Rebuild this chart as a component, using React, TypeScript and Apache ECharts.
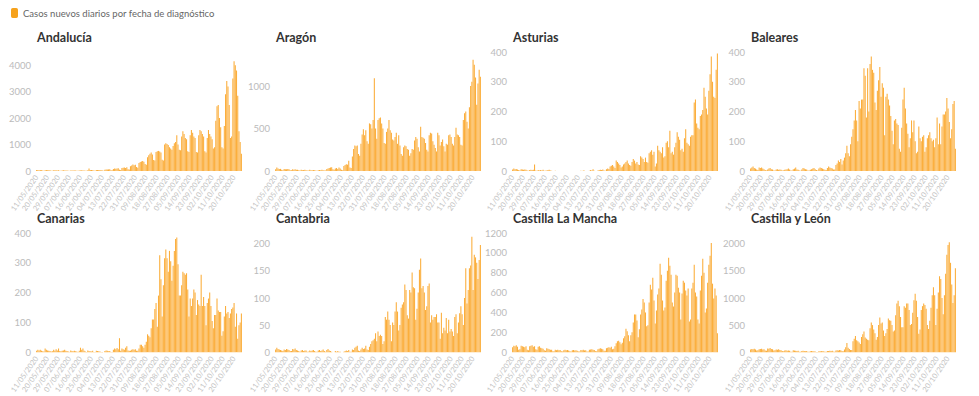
import React, { useEffect, useRef } from "react";
import * as echarts from "echarts";

const SERIES_NAME = "Casos nuevos diarios por fecha de diagnóstico";
const START_DATE = "2020-05-11";
const DAY_COUNT = 169;

// Daily values (Mon..Sun per row), 11/05/2020 -> 26/10/2020
const andalucia = [
  35, 40, 30, 35, 30, 15, 10,
  30, 35, 30, 25, 30, 10, 8,
  25, 30, 25, 20, 25, 8, 6,
  20, 25, 20, 20, 15, 8, 5,
  15, 20, 20, 15, 18, 6, 5,
  20, 20, 25, 20, 18, 10, 8,
  30, 95, 40, 35, 30, 15, 12,
  35, 40, 35, 40, 30, 15, 10,
  50, 60, 55, 60, 65, 30, 25,
  80, 90, 85, 95, 100, 50, 40,
  110, 120, 130, 115, 140, 70, 60,
  180, 210, 250, 220, 240, 150, 120,
  300, 340, 360, 380, 350, 260, 240,
  520, 600, 650, 700, 620, 420, 400,
  720, 750, 760, 740, 700, 430, 400,
  1000, 1050, 1020, 980, 900, 850, 800,
  950, 1050, 1100, 1350, 1000, 800, 780,
  1300, 1500, 1400, 1250, 1200, 750, 720,
  1350, 1550, 1450, 1300, 1250, 720, 700,
  1350, 1550, 1500, 1400, 1300, 750, 700,
  1250, 1550, 1400, 1300, 1200, 850, 900,
  1900, 2450, 2500, 2000, 1650, 900, 850,
  1700, 2900, 3400, 3200, 2500, 1250, 1300,
  3500, 4150, 4000, 3800, 2850, 1500, 1100,
  650,
];

const aragon = [
  20, 40, 30, 25, 25, 15, 10,
  25, 20, 20, 25, 20, 10, 8,
  20, 15, 20, 15, 15, 8, 5,
  15, 10, 12, 15, 10, 5, 5,
  15, 10, 10, 12, 8, 5, 3,
  10, 12, 10, 15, 10, 5, 5,
  25, 30, 35, 40, 45, 20, 15,
  30, 35, 25, 40, 30, 15, 10,
  60, 70, 80, 75, 120, 40, 35,
  170, 260, 300, 290, 300, 200, 180,
  320, 430, 490, 420, 480, 350, 320,
  560, 550, 500, 600, 1090, 500, 380,
  600, 620, 630, 560, 500, 330, 320,
  460, 500, 600, 480, 450, 370, 360,
  400, 450, 320, 420, 300, 200, 180,
  280, 300, 290, 260, 250, 180, 210,
  260, 250, 360, 400, 380, 280, 230,
  520, 400, 390, 380, 330, 250, 230,
  420, 450, 440, 350, 310, 270, 230,
  450, 420, 300, 340, 370, 290, 230,
  320, 310, 420, 430, 400, 320, 300,
  400, 510, 430, 420, 400, 310, 300,
  600, 680, 700, 580, 500, 750, 1000,
  1050, 1310, 1250, 1100, 780, 1030, 1190,
  1110,
];

const asturias = [
  5, 8, 6, 7, 5, 3, 2,
  6, 5, 4, 5, 4, 2, 1,
  3, 4, 3, 4, 22, 2, 1,
  3, 2, 3, 2, 4, 1, 1,
  2, 3, 4, 2, 1, 0, 0,
  1, 0, 0, 0, 0, 0, 0,
  0, 0, 0, 0, 0, 0, 0,
  0, 0, 0, 0, 0, 0, 0,
  1, 0, 2, 1, 0, 0, 0,
  1, 3, 2, 6, 1, 0, 0,
  2, 3, 4, 3, 5, 2, 1,
  6, 8, 7, 15, 18, 20, 15,
  10, 35, 30, 25, 20, 12, 15,
  22, 25, 30, 35, 25, 20, 18,
  30, 40, 35, 25, 30, 22, 20,
  50, 45, 40, 30, 45, 30, 28,
  60, 65, 70, 55, 65, 15, 25,
  85, 70, 65, 60, 80, 45, 50,
  95, 100, 80, 135, 60, 65, 55,
  80, 95, 130, 115, 105, 70, 75,
  65, 110, 140, 95, 90, 85, 115,
  120, 120, 230, 240, 160, 145, 140,
  185, 190, 205, 280, 250, 210, 190,
  270, 325, 385, 300, 250, 245, 340,
  395,
];

const baleares = [
  8, 12, 15, 10, 8, 5, 3,
  12, 10, 12, 8, 6, 3, 2,
  5, 8, 10, 6, 5, 2, 2,
  5, 6, 4, 5, 4, 2, 2,
  4, 5, 6, 8, 5, 2, 2,
  6, 8, 12, 5, 4, 2, 1,
  5, 10, 8, 6, 5, 2, 2,
  4, 6, 8, 10, 6, 3, 2,
  8, 12, 10, 8, 6, 4, 3,
  10, 15, 12, 10, 8, 5, 5,
  20, 25, 35, 30, 40, 22, 35,
  45, 60, 85, 60, 50, 90, 115,
  140, 170, 205, 170, 100, 235, 210,
  240, 240, 345, 320, 180, 345, 200,
  360, 385, 340, 330, 230, 205, 270,
  305, 350, 250, 295, 280, 120, 250,
  260, 240, 220, 185, 135, 90, 170,
  175, 160, 155, 75, 65, 145, 240,
  280, 210, 160, 125, 80, 110, 170,
  130, 170, 100, 60, 65, 150, 110,
  100, 115, 120, 65, 80, 110, 120,
  130, 110, 100, 105, 80, 110, 180,
  90, 160, 90, 150, 190, 190, 200,
  245, 210, 165, 110, 140, 225, 235,
  75,
];

const canarias = [
  5, 8, 6, 8, 5, 3, 2,
  12, 8, 6, 5, 4, 2, 3,
  8, 5, 10, 6, 12, 4, 3,
  5, 6, 8, 5, 4, 2, 1,
  6, 4, 3, 5, 3, 2, 1,
  5, 15, 8, 12, 5, 2, 1,
  6, 4, 3, 2, 5, 1, 1,
  5, 4, 3, 2, 1, 1, 0,
  4, 6, 5, 3, 4, 1, 1,
  8, 12, 10, 14, 10, 47, 5,
  12, 10, 8, 15, 20, 6, 5,
  5, 8, 10, 8, 10, 5, 5,
  12, 25, 25, 20, 15, 25, 35,
  60, 55, 50, 80, 110, 110, 145,
  165, 85, 190, 325, 245, 120, 225,
  315, 345, 315, 270, 340, 305, 240,
  290, 340, 380, 385, 295, 190, 190,
  225, 270, 265, 260, 265, 210, 120,
  180, 155, 180, 210, 200, 125, 175,
  160, 155, 260, 155, 185, 155, 90,
  165, 180, 200, 155, 105, 80, 125,
  125, 180, 140, 135, 135, 55, 70,
  120, 155, 130, 135, 115, 130, 145,
  150, 165, 85, 130, 45, 90, 100,
  130,
];

const cantabria = [
  5, 8, 6, 5, 4, 3, 2,
  5, 4, 6, 5, 4, 2, 2,
  6, 5, 7, 4, 3, 2, 1,
  3, 4, 2, 3, 3, 1, 1,
  3, 2, 3, 4, 2, 1, 1,
  3, 4, 2, 3, 5, 2, 1,
  4, 6, 3, 2, 1, 0, 0,
  2, 1, 2, 1, 1, 0, 0,
  1, 2, 3, 2, 4, 1, 1,
  5, 4, 8, 10, 12, 3, 2,
  5, 8, 6, 7, 12, 5, 4,
  10, 15, 20, 22, 25, 35, 20,
  38, 30, 32, 30, 15, 20, 65,
  60, 75, 60, 50, 20, 55, 50,
  75, 92, 75, 40, 50, 82, 88,
  92, 125, 115, 68, 62, 115, 110,
  147, 120, 118, 60, 80, 110, 152,
  173, 118, 122, 110, 78, 85, 122,
  127, 55, 68, 60, 65, 65, 70,
  55, 55, 25, 73, 35, 45, 40,
  63, 35, 60, 38, 43, 38, 30,
  65, 70, 35, 55, 72, 85, 70,
  50, 100, 155, 90, 115, 155, 160,
  213, 115, 180, 175, 165, 135, 170,
  198,
];

const castillaLaMancha = [
  50, 65, 60, 70, 55, 25, 30,
  65, 60, 55, 50, 60, 25, 20,
  60, 65, 70, 55, 60, 30, 25,
  55, 60, 45, 40, 35, 20, 15,
  40, 35, 30, 25, 25, 10, 10,
  25, 20, 25, 20, 22, 10, 8,
  20, 25, 20, 22, 18, 10, 8,
  20, 22, 18, 20, 15, 8, 6,
  22, 20, 25, 18, 20, 8, 8,
  25, 28, 30, 25, 22, 10, 10,
  30, 35, 40, 35, 30, 15, 15,
  40, 45, 50, 45, 55, 30, 35,
  60, 90, 110, 115, 100, 80, 95,
  140, 160, 235, 210, 170, 110, 170,
  200, 300, 380, 380, 320, 150, 230,
  380, 430, 535, 500, 400, 260, 270,
  500, 680, 630, 750, 520, 290, 420,
  580, 640, 890, 780, 520, 420, 450,
  720, 820, 950, 870, 780, 500, 460,
  600, 780, 770, 650, 600, 330, 590,
  720, 700, 620, 570, 640, 310, 330,
  640, 700, 880, 600, 560, 330, 290,
  620, 770, 940, 800, 400, 440, 700,
  880, 970, 1100, 690, 540, 640, 570,
  190,
];

const castillaYLeon = [
  50, 60, 55, 65, 50, 30, 35,
  55, 60, 65, 50, 55, 30, 25,
  70, 65, 75, 60, 55, 30, 35,
  50, 45, 55, 40, 35, 20, 15,
  30, 35, 25, 30, 25, 10, 10,
  35, 30, 25, 20, 25, 10, 8,
  20, 25, 22, 18, 20, 8, 6,
  18, 20, 15, 15, 12, 5, 5,
  15, 18, 20, 15, 18, 8, 6,
  20, 22, 25, 20, 25, 10, 10,
  30, 35, 30, 40, 35, 20, 15,
  50, 90, 170, 80, 60, 40, 40,
  200, 250, 300, 220, 200, 180, 150,
  280, 330, 380, 270, 250, 230, 220,
  440, 550, 500, 420, 350, 230, 280,
  500, 640, 530, 550, 400, 300, 350,
  430, 620, 590, 580, 500, 380, 400,
  680, 900, 950, 850, 650, 460, 460,
  850, 820, 900, 900, 780, 500, 520,
  730, 960, 1080, 950, 650, 340, 420,
  780, 850, 900, 870, 800, 500, 430,
  580, 820, 1050, 1200, 1050, 500, 800,
  1100, 1400, 1350, 1000, 700, 1050, 1450,
  1800, 1980, 2030, 1650, 1250, 910, 1050,
  1550,
];

const regionNames = [
  "Andalucía", "Aragón", "Asturias", "Baleares",
  "Canarias", "Cantabria", "Castilla La Mancha", "Castilla y León",
];
const regionValues = [
  andalucia, aragon, asturias, baleares,
  canarias, cantabria, castillaLaMancha, castillaYLeon,
];
const axisMax = [4500, 1400, 400, 400, 400, 220, 1200, 2200];
const axisInterval = [1000, 500, 100, 100, 100, 50, 200, 500];

function buildDates(): string[] {
  const out: string[] = [];
  const d0 = new Date(START_DATE + "T12:00:00Z");
  for (let i = 0; i < DAY_COUNT; i++) {
    const d = new Date(d0.getTime() + i * 86400000);
    const dd = String(d.getUTCDate()).padStart(2, "0");
    const mm = String(d.getUTCMonth() + 1).padStart(2, "0");
    out.push(`${dd}/${mm}/${d.getUTCFullYear()}`);
  }
  return out;
}

const FONT = "Lato, 'Noto Sans', sans-serif";
const BAR_COLOR = "#fbae3c";
const COL_LEFT = [36, 275, 512, 750];
const GRID_W = 206;
const ROW_TOP = [52, 233];
const ROW_H = [119, 120];
const TITLE_TOP = [31, 212];

export default function App() {
  const ref = useRef<HTMLDivElement>(null);
  useEffect(() => {
    if (!ref.current) return;
    const chart = echarts.init(ref.current, undefined, { renderer: "svg" });
    const dates = buildDates();
    const grids: any[] = [];
    const xAxes: any[] = [];
    const yAxes: any[] = [];
    const series: any[] = [];
    const titles: any[] = [];
    regionNames.forEach((name, i) => {
      const col = i % 4;
      const row = Math.floor(i / 4);
      const iv = axisInterval[i];
      grids.push({ left: COL_LEFT[col], top: ROW_TOP[row], width: GRID_W, height: ROW_H[row] });
      titles.push({
        text: name,
        left: COL_LEFT[col] + 1,
        top: TITLE_TOP[row],
        padding: 0,
        textStyle: { fontFamily: FONT, fontSize: 12.5, fontWeight: "bold", color: "#333" },
      });
      xAxes.push({
        type: "category",
        gridIndex: i,
        data: dates,
        axisLine: { show: false },
        axisTick: { show: false },
        axisLabel: {
          interval: 8,
          rotate: 55,
          fontSize: 7.5,
          color: "#c4c4c4",
          fontFamily: FONT,
          margin: 5,
        },
      });
      yAxes.push({
        type: "value",
        gridIndex: i,
        min: 0,
        max: axisMax[i],
        interval: iv,
        splitLine: { show: false },
        axisLine: { show: false },
        axisTick: { show: false },
        axisLabel: {
          fontSize: 9.5,
          color: "#bbbbbb",
          fontFamily: FONT,
          margin: 5,
          formatter: (v: number) => (v % iv === 0 ? String(v) : ""),
        },
      });
      series.push({
        type: "bar",
        name: SERIES_NAME,
        xAxisIndex: i,
        yAxisIndex: i,
        data: regionValues[i],
        barCategoryGap: "12%",
        itemStyle: { color: BAR_COLOR },
      });
    });
    chart.setOption({
      animation: false,
      backgroundColor: "#ffffff",
      title: titles,
      legend: {
        data: [SERIES_NAME],
        left: 11,
        top: 8,
        padding: 0,
        icon: "roundRect",
        itemWidth: 7,
        itemHeight: 10,
        selectedMode: false,
        itemStyle: { color: "#f6a21c" },
        textStyle: { fontFamily: FONT, fontSize: 9.5, color: "#666" },
      },
      grid: grids,
      xAxis: xAxes,
      yAxis: yAxes,
      series,
    });
    return () => chart.dispose();
  }, []);
  return (
    <div
      ref={ref}
      style={{ position: "fixed", left: 0, top: 0, width: 979, height: 396 }}
    />
  );
}
